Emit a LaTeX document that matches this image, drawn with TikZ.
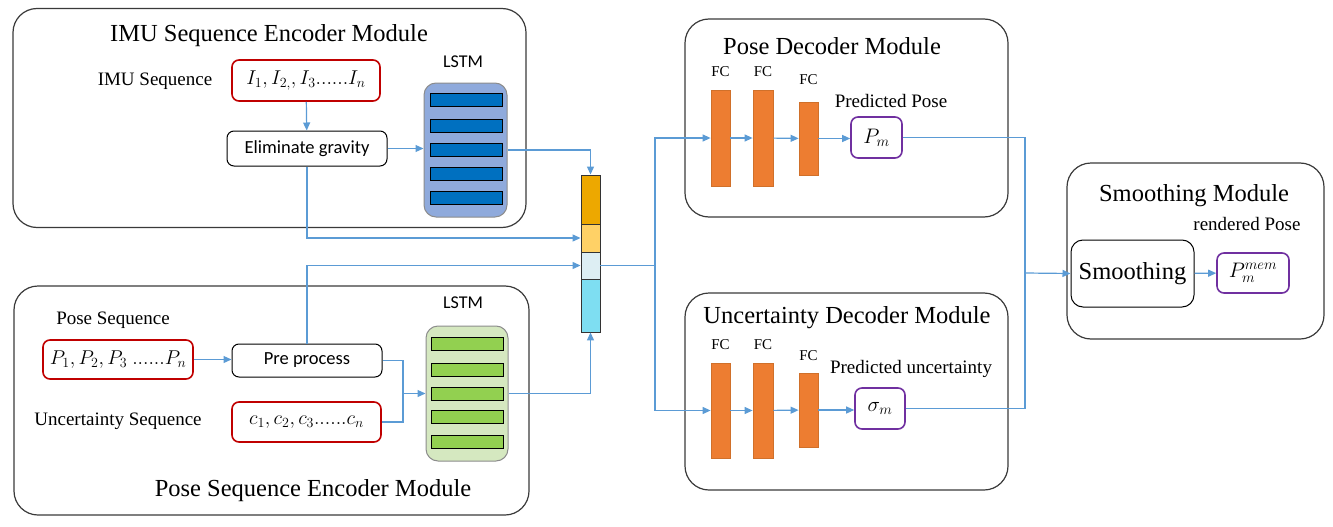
\RequirePackage{fix-cm}
\documentclass[tikz,border=0pt]{standalone}
\usepackage{fontspec}
\setmainfont{Liberation Serif}
\newfontfamily\calibfont{Carlito}
\usetikzlibrary{arrows.meta,positioning}

\definecolor{flowblue}{HTML}{5B9BD5}
\definecolor{seqred}{HTML}{C00000}
\definecolor{outpurple}{HTML}{7030A0}
\definecolor{fcorange}{HTML}{ED7D31}
\definecolor{fcedge}{HTML}{D0702A}
\definecolor{lstmblue}{HTML}{8FAADC}
\definecolor{barblue}{HTML}{0070C0}
\definecolor{lstmgreen}{HTML}{D5E8C0}
\definecolor{bargreen}{HTML}{92D050}
\definecolor{catA}{HTML}{EDA800}
\definecolor{catB}{HTML}{FFD166}
\definecolor{catC}{HTML}{DDEEF3}
\definecolor{catD}{HTML}{7EDEF2}
\definecolor{modgray}{HTML}{3A3A3A}

\begin{document}
\begin{tikzpicture}[x=1pt, y=-1pt,
  module/.style={draw=modgray, line width=1.2pt, rounded corners=24pt, inner sep=0pt},
  modtitle/.style={font=\fontsize{24.5}{28}\selectfont, inner sep=0pt},
  seqlabel/.style={font=\fontsize{19}{22}\selectfont, inner sep=0pt},
  fclab/.style={font=\fontsize{15}{17}\selectfont, inner sep=0pt},
  seqbox/.style={draw=seqred, line width=1.6pt, rounded corners=7pt, inner sep=0pt, font=\fontsize{20}{24}\selectfont},
  opbox/.style={draw=black, line width=1pt, rounded corners=7pt, inner sep=0pt, font=\calibfont\fontsize{18.5}{22}\selectfont},
  outbox/.style={draw=outpurple, line width=1.6pt, rounded corners=7pt, inner sep=0pt, minimum height=41pt, font=\fontsize{21}{24}\selectfont},
  lstmlab/.style={font=\calibfont\fontsize{18}{21}\selectfont, inner sep=0pt},
  lstmbody/.style={draw=black!45, line width=1pt, rounded corners=12pt, inner sep=0pt},
  lstmbar/.style={draw=black, line width=1pt, minimum width=72pt, minimum height=13pt, inner sep=0pt},
  fcbar/.style={fill=fcorange, draw=fcedge, line width=0.8pt, minimum width=19pt, inner sep=0pt},
  catseg/.style={draw=black!80, line width=0.9pt, minimum width=19pt, inner sep=0pt},
  line/.style={draw=flowblue, line width=1.2pt},
  flow/.style={line, -{Triangle[length=8pt,width=7pt]}}]
\useasboundingbox (0,0) rectangle (1333,527);

% modules
\node[module, minimum width=513pt, minimum height=219pt] (imumod) at (269.5,118) {};
\node[module, minimum width=515pt, minimum height=229pt] (posemod) at (271.5,400.5) {};
\node[module, minimum width=323pt, minimum height=198pt] (pdmod) at (846.5,118) {};
\node[module, minimum width=323pt, minimum height=197pt] (udmod) at (846.5,391.5) {};
\node[module, minimum width=257pt, minimum height=176pt] (smmod) at (1195.5,251) {};

\node[modtitle] (imutitle) at (269,36) {IMU Sequence Encoder Module};
\node[modtitle] (posetitle) at (313,491) {Pose Sequence Encoder Module};
\node[modtitle] (pdtitle) at (832,46) {Pose Decoder Module};
\node[modtitle] (udtitle) at (847,318) {Uncertainty Decoder Module};
\node[modtitle] (smtitle) at (1194,196) {Smoothing Module};

% IMU encoder
\node[seqlabel] (imulab) at (155,81) {IMU Sequence};
\node[seqbox, minimum width=148pt, minimum height=41pt] (imuseq) at (306,80.5) {$I_1, I_{2,}, I_3......I_n$};
\node[opbox, minimum width=160pt, minimum height=35pt] (elim) at (307,148.5) {Eliminate gravity};
\node[lstmlab] (lstmlabA) at (463,62) {LSTM};
\node[lstmbody, fill=lstmblue, minimum width=83pt, minimum height=134pt] (lstmA) at (465.5,150) {};
\foreach \y [count=\i] in {99.5,126,149.5,174,197.5}
  \node[lstmbar, fill=barblue] (barA\i) at (466,\y) {};

% pose encoder
\node[seqlabel] (poselab) at (113,320) {Pose Sequence};
\node[seqlabel] (unclab) at (118,421) {Uncertainty Sequence};
\node[seqbox, minimum width=150pt, minimum height=39pt] (pseq) at (118,359.5) {$P_1, P_2, P_3\ ......P_n$};
\node[opbox, minimum width=150pt, minimum height=33pt] (pre) at (307,360.5) {Pre process};
\node[seqbox, minimum width=149pt, minimum height=40pt] (cseq) at (306.5,422) {$c_1, c_2, c_3......c_n$};
\node[lstmlab] (lstmlabB) at (463,303) {LSTM};
\node[lstmbody, fill=lstmgreen, minimum width=82pt, minimum height=135pt] (lstmB) at (467,393.5) {};
\foreach \y [count=\i] in {343.5,370,393.5,417,441.5}
  \node[lstmbar, fill=bargreen] (barB\i) at (467,\y) {};
\coordinate (jB) at (403,393.5);

% concatenation
\node[catseg, fill=catA, minimum height=49pt] (cat1) at (590.5,199.5) {};
\node[catseg, fill=catB, minimum height=28pt] (cat2) at (590.5,238) {};
\node[catseg, fill=catC, minimum height=27pt] (cat3) at (590.5,265.5) {};
\node[catseg, fill=catD, minimum height=53pt] (cat4) at (590.5,305.5) {};
\coordinate (jC) at (655,265.5);

% pose decoder
\node[fcbar, minimum height=96pt] (pfc1) at (720.5,138) {};
\node[fcbar, minimum height=96pt, minimum width=20pt] (pfc2) at (763,138) {};
\node[fcbar, minimum height=73pt] (pfc3) at (808.5,138.5) {};
\node[fclab, above=13pt of pfc1] (pfcl1) {FC};
\node[fclab, above=13pt of pfc2] (pfcl2) {FC};
\node[fclab, above=17pt of pfc3] (pfcl3) {FC};
\node[outbox, minimum width=51pt] (pm) at (876.5,137.5) {$P_m$};
\node[seqlabel] (pmlab) at (891,101) {Predicted Pose};

% uncertainty decoder
\node[fcbar, minimum height=95pt] (ufc1) at (720.5,410.5) {};
\node[fcbar, minimum height=95pt, minimum width=20pt] (ufc2) at (763,410.5) {};
\node[fcbar, minimum height=74pt] (ufc3) at (808.5,410) {};
\node[fclab, above=13pt of ufc1] (ufcl1) {FC};
\node[fclab, above=13pt of ufc2] (ufcl2) {FC};
\node[fclab, above=12pt of ufc3] (ufcl3) {FC};
\node[outbox, minimum width=50pt] (sm) at (880,408.5) {$\sigma_m$};
\node[seqlabel] (smlab) at (911,369) {Predicted uncertainty};

% smoothing
\coordinate (jD) at (1025,273);
\node[draw=black, line width=1pt, rounded corners=12pt, minimum width=123pt, minimum height=67pt, inner sep=0pt, font=\fontsize{24.5}{28}\selectfont] (smooth) at (1132.5,273.5) {Smoothing};
\node[outbox, minimum width=72pt, minimum height=40pt] (pmem) at (1253,273) {$P_m^{mem}$};
\node[seqlabel] (renlab) at (1247,224) {rendered Pose};

% connectors
\draw[flow] (imuseq) -- (elim);
\draw[flow] (elim) -- (elim -| lstmA.west);
\draw[flow] (lstmA.east) -| (cat1.north);
\draw[flow] (elim.south) |- (cat2.west);
\draw[flow] (pre.north) |- (cat3.west);
\draw[flow] (lstmB.east) -| (cat4.south);
\draw[flow] (pseq.east) -- (pseq.east -| pre.west);
\draw[line] (pre.east) -| (jB);
\draw[line] (cseq.east) -| (jB);
\draw[flow] (jB) -- (lstmB.west);
\draw[line] (cat3.east) -- (jC);
\draw[flow] (jC) |- (pfc1.west);
\draw[flow] (jC) |- (ufc1.west);
\draw[flow] (pfc1) -- (pfc2);
\draw[flow] (pfc2) -- (pfc3);
\draw[flow] (pfc3) -- (pfc3 -| pm.west);
\draw[flow] (ufc1) -- (ufc2);
\draw[flow] (ufc2) -- (ufc3);
\draw[flow] (ufc3) -- (ufc3 -| sm.west);
\draw[line] (pm.east) -| (jD);
\draw[line] (sm.east) -| (jD);
\draw[flow] (jD) -- (smooth.west);
\draw[flow] (smooth) -- (pmem);
\end{tikzpicture}
\end{document}
